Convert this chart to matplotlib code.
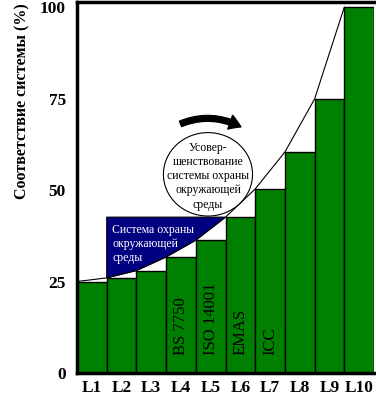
import matplotlib
matplotlib.use("Agg")
import matplotlib.pyplot as plt
from matplotlib.patches import Ellipse, Polygon, FancyArrowPatch
import numpy as np

plt.rcParams["font.family"] = ["Liberation Serif", "DejaVu Serif"]
plt.rcParams["font.size"] = 11

# данные
levels = ["L1", "L2", "L3", "L4", "L5", "L6", "L7", "L8", "L9", "L10"]
compliance = [25, 26, 28, 31.7, 36.3, 42.6, 50.3, 60.4, 74.9, 100]
y_ticks = [0, 25, 50, 75, 100]
standards = {3: "BS 7750", 4: "ISO 14001", 5: "EMAS", 6: "ICC"}
ems_text = "Система охраны\nокружающей\nсреды"
improve_text = "Усовер-\nшенствование\nсистемы охраны\nокружающей\nсреды"
ylabel = "Соответствие системы (%)"

fig = plt.figure(figsize=(3.76, 4.0), dpi=100)
ax = fig.add_axes([77 / 376, 27 / 400, 297 / 376, 371 / 400])

x = np.arange(1, len(levels) + 1)
ax.bar(x, compliance, width=1.0, color="#008000", edgecolor="black", linewidth=1.0, zorder=2)

# кривая через левые верхние углы столбцов
cx = x - 0.5
ax.plot(cx, compliance, color="black", linewidth=0.8, zorder=3)

# синяя область над кривой (L2..L6)
top = compliance[5]
pts = [(cx[1], top)] + [(cx[i], compliance[i]) for i in range(1, 6)]
ax.add_patch(Polygon(pts, closed=True, facecolor="#000080", edgecolor="black",
                     linewidth=0.8, zorder=4))
ax.text(1.68, 35.3, ems_text, color="white", fontsize=8.5, ha="left", va="center",
        linespacing=1.2, zorder=5)

# круг
ax.add_patch(Ellipse((4.91, 54.3), 3.0, 22.8, facecolor="white", edgecolor="black",
                     linewidth=0.8, zorder=5))
ax.text(4.91, 53.8, improve_text, color="black", fontsize=8.5, ha="center", va="center",
        linespacing=1.25, zorder=6)

# изогнутая стрелка
arrow = FancyArrowPatch((3.9, 67.8), (6.1, 66.9),
                        connectionstyle="arc3,rad=-0.25",
                        arrowstyle="simple,head_length=0.6,head_width=0.75,tail_width=0.3",
                        mutation_scale=14, color="black", zorder=6)
ax.add_patch(arrow)

# подписи стандартов
for i, name in standards.items():
    ax.text(x[i], 5, name, rotation=90, ha="center", va="bottom", fontsize=12,
            color="black", zorder=6)

ax.set_xlim(0.5, 10.5)
ax.set_ylim(0, 101.4)
ax.set_xticks(x)
ax.set_xticklabels(levels, fontweight="bold", fontsize=12.5)
ax.set_yticks(y_ticks)
ax.set_yticklabels([str(v) for v in y_ticks], fontweight="bold", fontsize=12.5)
ax.tick_params(length=0)
ax.tick_params(axis="y", pad=8)
ax.tick_params(axis="x", pad=5)

ax.set_ylabel(ylabel, fontweight="bold", fontsize=11.5)
ax.yaxis.set_label_coords(-0.158, 0.733)

for s in ["left", "bottom", "top"]:
    ax.spines[s].set_linewidth(2.5)
ax.spines["right"].set_visible(False)

fig.savefig("out.png", dpi=100)
